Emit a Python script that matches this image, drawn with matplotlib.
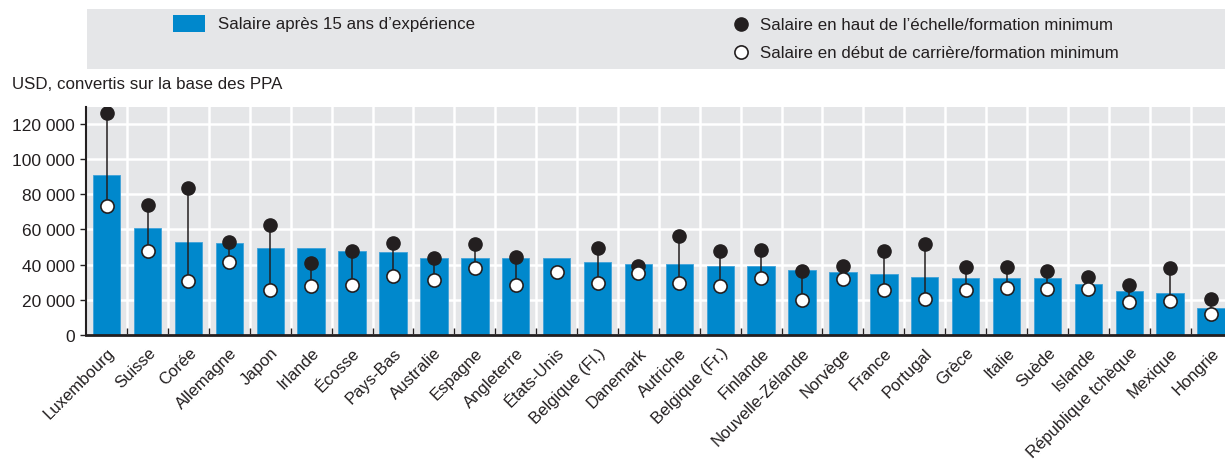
import numpy as np
import matplotlib
matplotlib.use("Agg")
import matplotlib.pyplot as plt
from matplotlib.patches import Rectangle
from matplotlib.lines import Line2D

plt.rcParams['font.family'] = ['Liberation Sans Narrow', 'Liberation Sans', 'DejaVu Sans']

# Data (USD, PPA)
countries = ["Luxembourg", "Suisse", "Corée", "Allemagne", "Japon", "Irlande", "Écosse",
             "Pays-Bas", "Australie", "Espagne", "Angleterre", "États-Unis", "Belgique (Fl.)",
             "Danemark", "Autriche", "Belgique (Fr.)", "Finlande", "Nouvelle-Zélande",
             "Norvège", "France", "Portugal", "Grèce", "Italie", "Suède", "Islande",
             "République tchèque", "Mexique", "Hongrie"]
salary_15y = [91000, 60600, 53000, 52200, 49600, 49200, 47700, 46900, 43900, 43900, 43500,
              43500, 41200, 40400, 40100, 39300, 38900, 37000, 35500, 34400, 33200, 32500,
              32500, 32100, 28700, 24900, 23600, 15600]
salary_top = [126200, 73700, 83700, 52800, 62300, 41000, 47800, 52000, 43500, 51500, 44100,
              np.nan, 49200, 39300, 56400, 47800, 48400, 36300, 38900, 47800, 51500, 38400,
              38400, 36300, 32700, 28300, 37800, 20500]
salary_start = [73100, 47800, 30600, 41400, 25500, 28100, 28300, 33400, 31200, 37800, 28300,
                35500, 29800, 35000, 29800, 27700, 32100, 19800, 31900, 25500, 20500, 25500,
                26400, 26200, 26200, 19000, 19200, 12000]

blue = "#0088cc"
grey_bg = "#e5e6e8"
dark = "#231f20"

fig = plt.figure(figsize=(12.25, 4.6), dpi=100)
ax = fig.add_axes([0.0704, 0.2696, 0.9349, 0.4957])
ax.set_facecolor(grey_bg)

x = np.arange(len(countries))
ax.bar(x, salary_15y, width=0.67, color=blue, edgecolor="#3fa2da", linewidth=0.6, zorder=2)

top = np.array(salary_top, dtype=float)
start = np.array(salary_start, dtype=float)
has_top = ~np.isnan(top)
ax.vlines(x[has_top], start[has_top], top[has_top], color=dark, linewidth=1.1, zorder=3)
ax.plot(x, top, 'o', ms=9.5, color=dark, zorder=4, linestyle='none')
ax.plot(x, start, 'o', ms=9.5, mfc="white", mec=dark, mew=1.2, zorder=5, linestyle='none')

ax.set_xlim(-0.5, len(countries) - 0.5)
ax.set_ylim(0, 129500)
yt = np.arange(0, 120001, 20000)
ax.set_yticks(yt)
ax.set_yticklabels([f"{v:,}".replace(",", " ") for v in yt], fontsize=12.5, color=dark)
ax.set_xticks(x)
ax.set_xticklabels(countries, rotation=45, ha="right", rotation_mode="anchor",
                   fontsize=12, color=dark)
ax.set_xticks(np.arange(0.5, len(countries) - 0.5, 1), minor=True)
ax.tick_params(axis="x", which="major", length=0, pad=7)
ax.tick_params(axis="x", which="minor", direction="in", length=5, width=1, color=dark)
ax.tick_params(axis="y", length=4, width=1, color=dark, pad=4)

ax.grid(axis="y", which="major", color="white", linewidth=1.8, zorder=0)
ax.grid(axis="x", which="minor", color="white", linewidth=1.8, zorder=0)
ax.set_axisbelow(True)
for s in ["top", "right"]:
    ax.spines[s].set_visible(False)
ax.spines["left"].set_color(dark)
ax.spines["left"].set_linewidth(1.5)
ax.spines["bottom"].set_color(dark)
ax.spines["bottom"].set_linewidth(2)

fig.text(12 / 1225, 1 - 85 / 460, "USD, convertis sur la base des PPA", fontsize=12.2,
         color=dark, va="center", ha="left")

# legend panel
fig.patches.append(Rectangle((87 / 1225, 1 - 70 / 460), 1 - 87 / 1225, 60 / 460,
                             transform=fig.transFigure, facecolor=grey_bg, edgecolor="none"))
fig.patches.append(Rectangle((173 / 1225, 1 - 33 / 460), 32 / 1225, 17 / 460,
                             transform=fig.transFigure, facecolor=blue, edgecolor="none"))
fig.text(218 / 1225, 1 - 25 / 460, "Salaire après 15 ans d’expérience", fontsize=12.2,
         color=dark, va="center", ha="left")
fig.lines.append(Line2D([741 / 1225], [1 - 25 / 460], marker='o', ms=9.5, color=dark,
                        transform=fig.transFigure))
fig.text(760 / 1225, 1 - 25 / 460, "Salaire en haut de l’échelle/formation minimum",
         fontsize=12.2, color=dark, va="center", ha="left")
fig.lines.append(Line2D([741 / 1225], [1 - 53 / 460], marker='o', ms=9.5, mfc="white",
                        mec=dark, mew=1.2, transform=fig.transFigure))
fig.text(760 / 1225, 1 - 53 / 460, "Salaire en début de carrière/formation minimum",
         fontsize=12.2, color=dark, va="center", ha="left")

fig.savefig("out.png", dpi=100)
